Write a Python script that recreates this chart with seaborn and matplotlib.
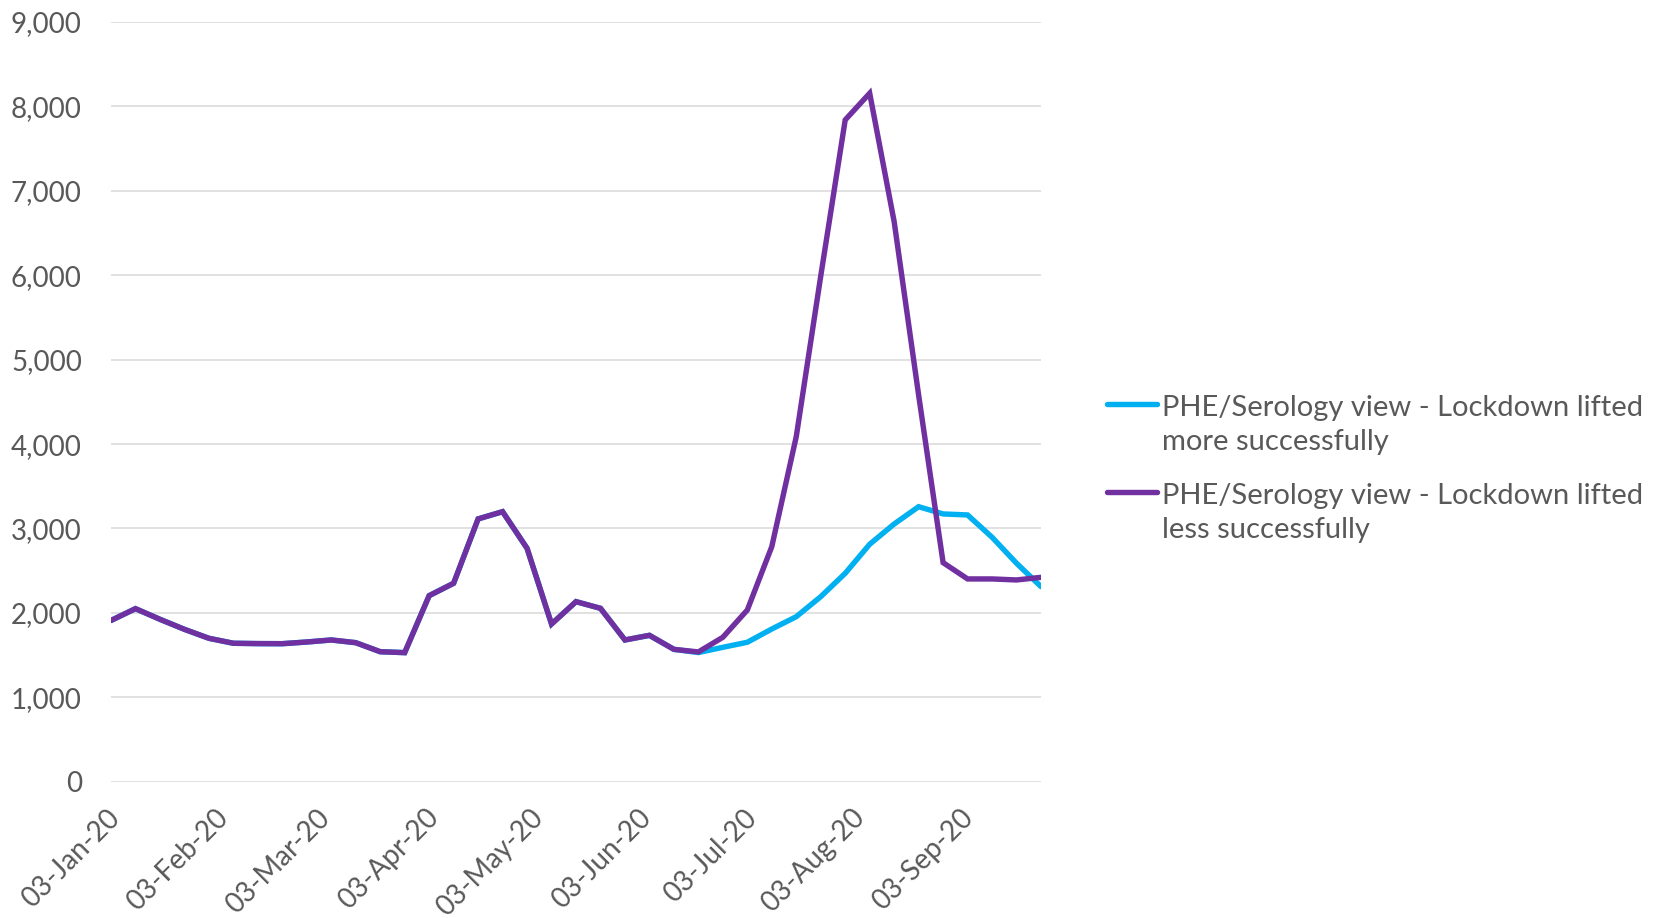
import numpy as np
import pandas as pd
import matplotlib
matplotlib.use("Agg")
import matplotlib.pyplot as plt
import matplotlib.dates as mdates
import matplotlib.transforms as mtransforms
from matplotlib.legend_handler import HandlerLine2D
import seaborn as sns

# ---- data -------------------------------------------------------------
start_date = "2020-01-03"
n_weeks = 39
shared_history = [1910, 2050, 1924, 1805, 1699, 1640, 1636, 1635, 1655, 1679,
                  1647, 1540, 1529, 2204, 2351, 3113, 3199, 2765, 1868, 2133,
                  2054, 1679, 1734, 1568]
more_successfully = [1530, 1592, 1652, 1809, 1955, 2192, 2469, 2813, 3053,
                     3258, 3172, 3160, 2896, 2588, 2311]
less_successfully = [1537, 1711, 2034, 2785, 4088, 5990, 7840, 8156, 6635,
                     4580, 2595, 2402, 2402, 2390, 2421]
series_names = ["PHE/Serology view - Lockdown lifted\nmore successfully",
                "PHE/Serology view - Lockdown lifted\nless successfully"]
series_colors = ["#00B0F0", "#7030A0"]
y_ticks = [0, 1000, 2000, 3000, 4000, 5000, 6000, 7000, 8000, 9000]

dates = pd.date_range(start_date, periods=n_weeks, freq="7D")
df = pd.concat([
    pd.DataFrame({"date": dates, "value": shared_history + more_successfully,
                  "series": series_names[0]}),
    pd.DataFrame({"date": dates, "value": shared_history + less_successfully,
                  "series": series_names[1]}),
])

# ---- style ------------------------------------------------------------
sns.set_theme(style="white")
plt.rcParams["font.family"] = ["Lato", "DejaVu Sans"]
text_color = "#595959"

fig = plt.figure(figsize=(16.61, 9.18), dpi=100)
ax = fig.add_axes([111 / 1661, 1 - 781.7 / 918, (1041 - 111) / 1661, (781.7 - 22) / 918])

sns.lineplot(data=df, x="date", y="value", hue="series", hue_order=series_names,
             palette=dict(zip(series_names, series_colors)), linewidth=3.9,
             ax=ax, legend=True)
for ln in ax.lines:
    ln.set_solid_capstyle("round")
    ln.set_solid_joinstyle("miter")

ax.set_xlim(dates[0], dates[-1])
ax.set_ylim(0, 9000)
ax.set_yticks(y_ticks)
ax.yaxis.set_major_formatter(matplotlib.ticker.FuncFormatter(lambda v, p: f"{int(v):,}"))
ax.xaxis.set_major_locator(mdates.MonthLocator(bymonthday=3))
ax.xaxis.set_major_formatter(mdates.DateFormatter("%d-%b-%y"))

ax.grid(axis="y", color="#D9D9D9", linewidth=1.1)
ax.grid(axis="x", visible=False)
ax.set_axisbelow(True)
for s in ax.spines.values():
    s.set_visible(False)
ax.set_xlabel("")
ax.set_ylabel("")
ax.tick_params(axis="y", length=0, pad=21, labelsize=20, labelcolor=text_color)
ax.tick_params(axis="x", length=0, pad=23, labelsize=20, labelcolor=text_color)
shift = mtransforms.ScaledTranslation(5 / 100, 0, fig.dpi_scale_trans)
for lab in ax.get_xticklabels():
    lab.set_rotation(45)
    lab.set_ha("right")
    lab.set_va("center")
    lab.set_rotation_mode("anchor")
    lab.set_transform(lab.get_transform() + shift)


class HandlerFirstLine(HandlerLine2D):
    def create_artists(self, legend, orig_handle, xdescent, ydescent, width,
                       height, fontsize, trans):
        artists = super().create_artists(legend, orig_handle, xdescent, ydescent,
                                         width, height, fontsize, trans)
        for a in artists:
            yd = np.asarray(a.get_ydata(), dtype=float)
            a.set_ydata(yd + 0.72 * fontsize)
        return artists


handles, labels = ax.get_legend_handles_labels()
ax.get_legend().remove()
leg = fig.legend(handles, labels, loc="center left",
                 bbox_to_anchor=(1107 / 1661, 1 - 469 / 918),
                 frameon=False, fontsize=21, handlelength=1.7, handletextpad=0.2,
                 borderpad=0, borderaxespad=0, labelspacing=0.97,
                 labelcolor=text_color,
                 handler_map={h: HandlerFirstLine() for h in handles})
for t in leg.get_texts():
    t.set_linespacing(1.38)
for h in leg.legend_handles:
    h.set_linewidth(3.9)

fig.savefig("out.png", dpi=100, facecolor="white")
